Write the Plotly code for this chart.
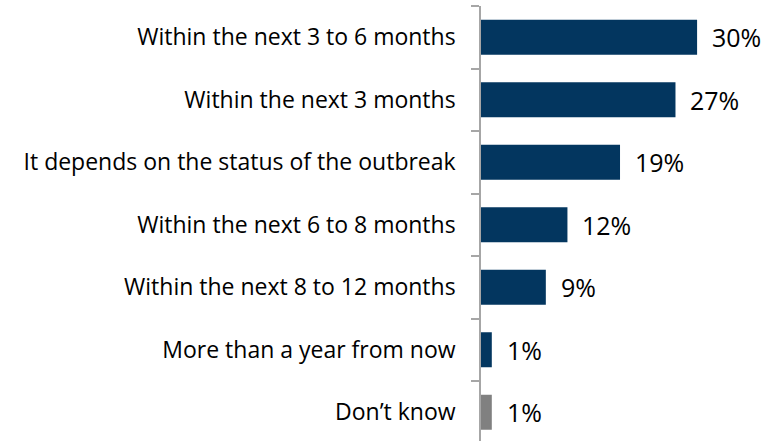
import plotly.graph_objects as go

categories = [
    "Within the next 3 to 6 months",
    "Within the next 3 months",
    "It depends on the status of the outbreak",
    "Within the next 6 to 8 months",
    "Within the next 8 to 12 months",
    "More than a year from now",
    "Don\u2019t know",
]
# bar lengths (the two "1%" bars are drawn ~1.5)
values = [30, 27, 19.3, 12, 9, 1.5, 1.5]
value_labels = ["30%", "27%", "19%", "12%", "9%", "1%", "1%"]
bar_colors = ["#03365F"] * 6 + ["#808080"]

FONT = "Open Sans"

fig = go.Figure()
fig.add_trace(go.Bar(
    y=categories,
    x=values,
    orientation="h",
    marker=dict(color=bar_colors, line=dict(width=0)),
    hoverinfo="skip",
))

for cat, v, lab in zip(categories, values, value_labels):
    fig.add_annotation(
        x=v, y=cat, text=lab, showarrow=False,
        xanchor="left", yanchor="middle", xshift=13,
        font=dict(family=FONT, size=25, color="#000000"),
    )

fig.update_layout(
    width=772, height=441,
    margin=dict(l=481, r=0, t=6, b=0, pad=0),
    paper_bgcolor="white", plot_bgcolor="white",
    bargap=0.44,
    showlegend=False,
    font=dict(family=FONT, size=23, color="#000000"),
)
fig.update_xaxes(range=[0, 40.4], visible=False, showgrid=False, zeroline=False)
fig.update_yaxes(
    type="category",
    categoryorder="array", categoryarray=categories,
    range=[6.46, -0.5],
    showgrid=False, zeroline=False,
    showline=True, linecolor="#A6A6A6", linewidth=1.5,
    ticks="outside", tickson="boundaries", ticklen=8, tickcolor="#A6A6A6", tickwidth=1.5,
    ticklabelstandoff=19,
    tickfont=dict(family=FONT, size=23, color="#000000"),
)

fig.write_html(
    "out.html",
    config={"displayModeBar": False},
    post_script="document.body.style.margin='0';document.body.style.overflow='hidden';",
)
